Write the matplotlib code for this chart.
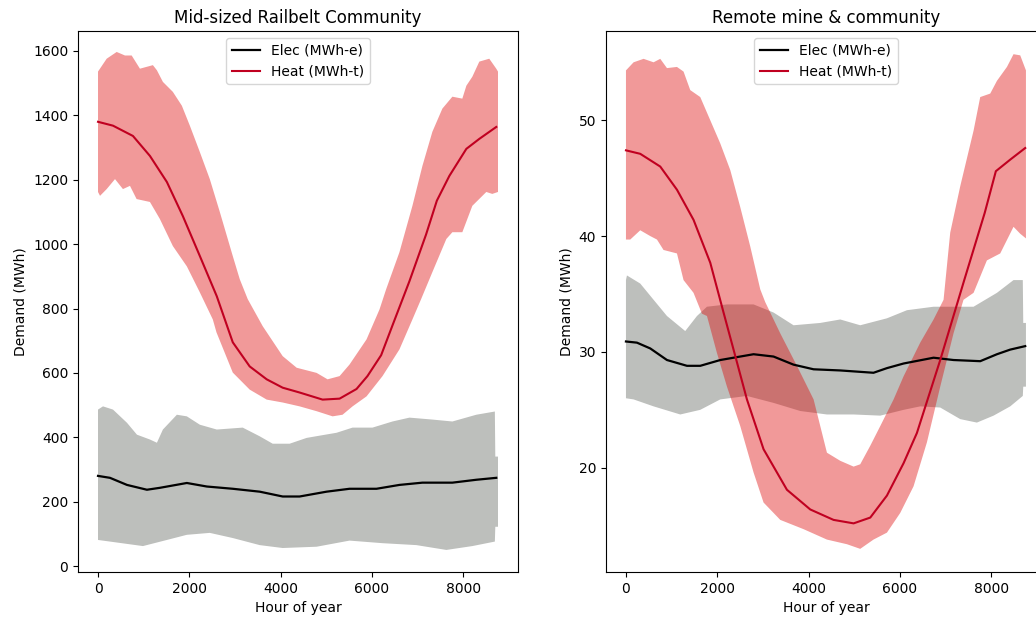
import numpy as np
import matplotlib
matplotlib.use("Agg")
import matplotlib.pyplot as plt

# ---------------- Mid-sized Railbelt Community ----------------
rail_heat_hi_h = [0, 190, 409, 590, 737, 918, 1202, 1290, 1421, 1639, 1836, 2011, 2230, 2448,
                  2667, 2951, 3104, 3279, 3607, 4044, 4350, 4787, 5027, 5290, 5508, 5880, 6164,
                  6310, 6601, 6885, 7104, 7322, 7541, 7760, 7978, 8066, 8197, 8350, 8568, 8721, 8759]
rail_heat_hi = [1536, 1576, 1597, 1586, 1586, 1545, 1556, 1540, 1504, 1473, 1430, 1368, 1286, 1202,
                1100, 963, 891, 829, 745, 652, 616, 600, 580, 590, 626, 704, 797,
                860, 975, 1119, 1243, 1349, 1421, 1458, 1452, 1492, 1520, 1567, 1576, 1545, 1536]
rail_heat_lo_h = [0, 44, 190, 372, 546, 700, 845, 1137, 1355, 1639, 1945, 2230, 2514, 2594, 2951,
                  3322, 3694, 4044, 4415, 4787, 5137, 5355, 5574, 5880, 6230, 6601, 6885, 7075,
                  7322, 7628, 7760, 7978, 8197, 8503, 8634, 8759]
rail_heat_lo = [1162, 1150, 1171, 1202, 1171, 1181, 1140, 1131, 1078, 994, 931, 850, 766, 726, 601,
                548, 517, 508, 496, 481, 465, 470, 496, 527, 590, 673, 766, 829,
                913, 1016, 1037, 1037, 1119, 1162, 1156, 1162]
rail_heat_mean_h = [0, 328, 765, 1137, 1508, 1858, 2230, 2601, 2951, 3322, 3694, 4044, 4415, 4918,
                    5290, 5661, 5900, 6200, 6455, 6820, 7184, 7420, 7694, 8066, 8350, 8721]
rail_heat_mean = [1380, 1368, 1336, 1274, 1193, 1087, 963, 838, 695, 620, 580, 554, 539, 517,
                  520, 550, 590, 655, 750, 885, 1030, 1135, 1212, 1296, 1327, 1364]

rail_elec_hi_h = [0, 109, 328, 634, 853, 1137, 1290, 1421, 1727, 1945, 2230, 2601, 3169, 3541, 3825,
                  4197, 4568, 4853, 5224, 5574, 6011, 6448, 6820, 7322, 7760, 8284, 8690, 8700, 8759]
rail_elec_hi = [486, 496, 486, 445, 408, 393, 383, 424, 470, 465, 439, 424, 430, 403, 380,
                380, 398, 405, 414, 430, 430, 449, 461, 455, 449, 470, 480, 340, 340]
rail_elec_lo_h = [0, 262, 984, 1508, 1945, 2448, 2951, 3541, 4044, 4787, 5508, 6230, 6973, 7628,
                  8197, 8690, 8700, 8759]
rail_elec_lo = [81, 76, 62, 81, 97, 103, 87, 65, 56, 60, 79, 71, 65, 50,
                62, 76, 122, 122]
rail_elec_mean_h = [0, 262, 634, 1071, 1355, 1945, 2383, 2951, 3541, 4044, 4415, 5005, 5508, 6098,
                    6601, 7104, 7760, 8284, 8721]
rail_elec_mean = [280, 274, 252, 237, 243, 258, 247, 240, 231, 216, 216, 231, 240, 240,
                  252, 259, 259, 268, 274]

# ---------------- Remote mine & community ----------------
mine_heat_hi_h = [0, 167, 386, 605, 751, 898, 1117, 1261, 1408, 1627, 1846, 2065, 2284, 2503, 2722,
                  2941, 3050, 3379, 3744, 4109, 4401, 4693, 4985, 5130, 5350, 5569, 5861, 6080,
                  6444, 6736, 6955, 7101, 7320, 7612, 7758, 7977, 8124, 8343, 8487, 8634, 8759]
mine_heat_hi = [54.3, 55.0, 55.3, 55.0, 55.3, 54.5, 54.6, 54.2, 52.6, 52.0, 50.0, 48.0, 45.7, 42.5, 39.1,
                35.4, 34.3, 31.6, 28.8, 25.9, 21.3, 20.6, 20.1, 20.3, 21.9, 23.6, 25.9, 27.9,
                30.8, 32.8, 34.5, 40.3, 44.3, 49.1, 52.0, 52.3, 53.4, 54.6, 55.7, 55.6, 54.3]
mine_heat_lo_h = [0, 94, 313, 532, 679, 823, 1117, 1261, 1480, 1664, 1774, 1993, 2212, 2503, 2794,
                  3013, 3379, 3889, 4401, 4839, 5130, 5421, 5715, 6006, 6298, 6591, 6882, 7173,
                  7392, 7612, 7904, 8196, 8487, 8634, 8759]
mine_heat_lo = [39.7, 39.7, 40.5, 40.0, 39.7, 38.8, 38.5, 36.2, 35.1, 33.3, 33.1, 29.9, 27.0, 23.6, 19.6,
                17.0, 15.5, 14.7, 13.8, 13.4, 13.0, 13.8, 14.4, 16.1, 18.4, 22.2, 27.0, 31.6,
                34.5, 35.1, 37.9, 38.5, 40.8, 40.2, 39.8]
mine_heat_mean_h = [0, 313, 751, 1117, 1480, 1846, 2137, 2356, 2649, 3013, 3525, 4036, 4546, 4985,
                    5350, 5715, 6080, 6371, 6882, 7408, 7856, 8100, 8415, 8743]
mine_heat_mean = [47.4, 47.1, 46.0, 44.0, 41.4, 37.7, 33.4, 30.2, 25.9, 21.6, 18.1, 16.4, 15.5, 15.2,
                  15.7, 17.6, 20.4, 23.0, 29.3, 36.2, 42.0, 45.6, 46.6, 47.6]

mine_elec_hi_h = [0, 22, 313, 605, 898, 1298, 1555, 1774, 2212, 2794, 3232, 3670, 4254, 4693, 5130,
                  5715, 6153, 6736, 7173, 7612, 8124, 8487, 8690, 8700, 8759]
mine_elec_hi = [36.2, 36.6, 35.9, 34.5, 33.1, 31.8, 33.1, 33.9, 34.1, 34.1, 33.4, 32.3, 32.5, 32.8, 32.3,
                32.9, 33.6, 33.9, 33.9, 33.9, 35.1, 36.2, 36.2, 32.5, 32.5]
mine_elec_lo_h = [0, 167, 605, 1189, 1627, 2065, 2649, 3232, 3817, 4401, 4985, 5569, 6080, 6444,
                  6882, 7320, 7685, 8050, 8415, 8690, 8700, 8759]
mine_elec_lo = [26.0, 25.9, 25.3, 24.6, 25.0, 25.9, 26.2, 25.6, 24.9, 24.6, 24.6, 24.5, 25.0, 25.3,
                25.2, 24.2, 23.9, 24.5, 25.3, 26.2, 27.0, 27.0]
mine_elec_mean_h = [0, 240, 532, 898, 1336, 1627, 2065, 2794, 3232, 3670, 4109, 4693, 5421, 5715,
                    6080, 6736, 7173, 7758, 8124, 8415, 8743]
mine_elec_mean = [30.9, 30.8, 30.3, 29.3, 28.8, 28.8, 29.3, 29.8, 29.6, 28.9, 28.5, 28.4, 28.2, 28.6,
                  29.0, 29.5, 29.3, 29.2, 29.8, 30.2, 30.5]

titles = ["Mid-sized Railbelt Community", "Remote mine & community"]
legend_labels = ["Elec (MWh-e)", "Heat (MWh-t)"]

ELEC_BAND = "#bdbfbc"
HEAT_BAND = "#de0000"
HEAT_LINE = "#c00020"


def band(ax, hi_h, hi, lo_h, lo, **kw):
    """Shade the region between an upper and a lower envelope."""
    xs = list(hi_h) + list(lo_h)[::-1]
    ys = list(hi) + list(lo)[::-1]
    ax.fill(xs, ys, linewidth=0, **kw)


fig = plt.figure(figsize=(10.36, 6.18), dpi=100)
ax1 = fig.add_axes([0.0753, 0.0744, 0.4247, 0.8754])
ax2 = fig.add_axes([0.5849, 0.0744, 0.4247, 0.8754])

panels = [
    (ax1, rail_elec_hi_h, rail_elec_hi, rail_elec_lo_h, rail_elec_lo, rail_elec_mean_h, rail_elec_mean,
     rail_heat_hi_h, rail_heat_hi, rail_heat_lo_h, rail_heat_lo, rail_heat_mean_h, rail_heat_mean),
    (ax2, mine_elec_hi_h, mine_elec_hi, mine_elec_lo_h, mine_elec_lo, mine_elec_mean_h, mine_elec_mean,
     mine_heat_hi_h, mine_heat_hi, mine_heat_lo_h, mine_heat_lo, mine_heat_mean_h, mine_heat_mean),
]

for (ax, ehh, eh, elh, el, emh, em, hhh, hh, hlh, hl, hmh, hm), title in zip(panels, titles):
    band(ax, ehh, eh, elh, el, color=ELEC_BAND)
    band(ax, hhh, hh, hlh, hl, color=HEAT_BAND, alpha=0.4)
    ax.plot(emh, em, color="black", lw=1.6, label=legend_labels[0])
    ax.plot(hmh, hm, color=HEAT_LINE, lw=1.5, label=legend_labels[1])
    ax.set_title(title, fontsize=12)
    ax.set_xlabel("Hour of year")
    ax.set_ylabel("Demand (MWh)")
    ax.set_xticks([0, 2000, 4000, 6000, 8000])
    ax.set_xlim(-438, 9197)
    ax.legend(loc="upper center")

ax1.set_ylim(-18.6, 1662)
ax1.set_yticks(np.arange(0, 1601, 200))
ax2.set_ylim(11.0, 57.7)
ax2.set_yticks([20, 30, 40, 50])

fig.savefig("out.png", dpi=100)
